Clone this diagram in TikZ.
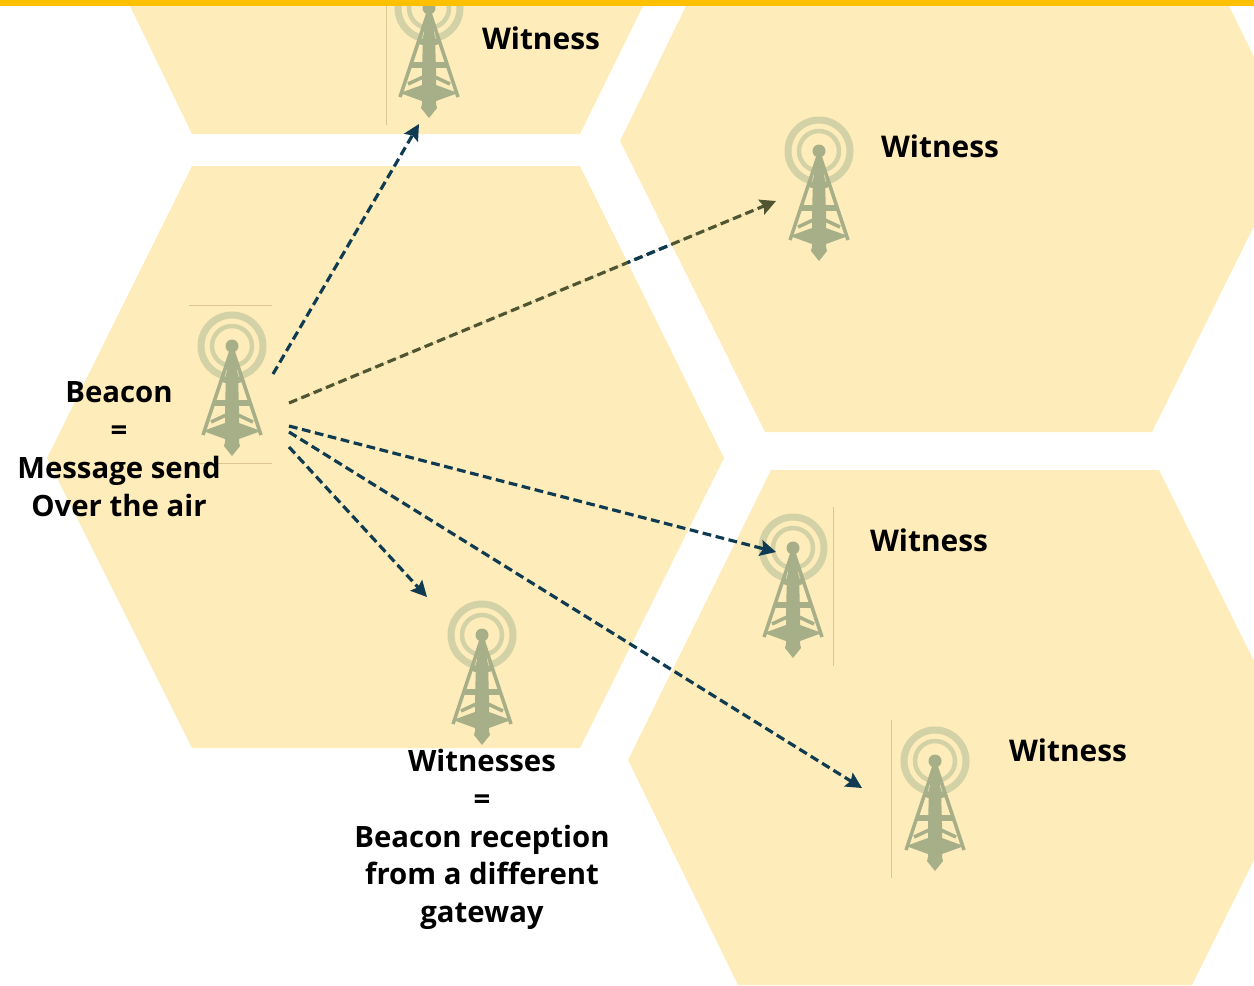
\documentclass[tikz,border=0pt]{standalone}
\usepackage{fontspec}
\setmainfont{Open Sans}
\usepackage{tikz}
\usetikzlibrary{arrows.meta, positioning}

\definecolor{cellyellow}{HTML}{FEECBA}
\definecolor{barorange}{HTML}{FFC000}
\definecolor{towergreen}{HTML}{A7AF88}
\definecolor{ringgreen}{HTML}{D2D2A6}
\definecolor{croptan}{HTML}{DCC593}
\definecolor{navyline}{HTML}{0F3B52}
\definecolor{oliveline}{HTML}{4F5530}

\tikzset{
    tower/.pic={
        % rings
        \draw[ringgreen, line width=0.14cm] (0,0) circle (31);
        \draw[ringgreen, line width=0.09cm] (0,0) circle (20);
        % mast and skirt
        \fill[towergreen] (-2,4) -- (2,4) -- (6,30) -- (7,62) -- (7,96) -- (8,100) -- (0,110) -- (-8,100) -- (-7,96) -- (-7,62) -- (-6,30) -- cycle;
        \fill[towergreen] (-29,85) -- (-7,77) -- (-7,93) -- cycle;
        \fill[towergreen] (29,85) -- (7,77) -- (7,93) -- cycle;
        \draw[towergreen, line width=0.07cm] (-21,76) -- (-6,69);
        \draw[towergreen, line width=0.07cm] (21,76) -- (6,69);
        % legs
        \draw[towergreen, line width=0.07cm] (-29,89) -- (0,2) -- (29,89);
        % bars
        \draw[towergreen, line width=0.11cm] (-18,57) -- (18,57);
        \draw[towergreen, line width=0.12cm] (-11,32) .. controls (-4,36) and (4,36) .. (11,32);
        \fill[towergreen] (0,0) circle (6.5);
    }
}

\begin{document}
\begin{tikzpicture}[
    x=0.02cm,
    y=-0.02cm,
    hexcell/.style={fill=cellyellow, draw=none},
    cropline/.style={draw=croptan, line width=0.4pt},
    cellword/.style={font=\bfseries\fontsize{17}{21}\selectfont, text=black, align=center, inner sep=0pt},
    stackword/.style={cellword, font=\bfseries\fontsize{16.7}{21.5}\selectfont},
    line/.style={draw=navyline, line width=1.8pt, dash pattern=on 5pt off 2.6pt, -{Stealth[length=9pt,width=9pt,inset=1.5pt]}},
    oliveband/.style={line, draw=oliveline, fill=oliveline}
]
\useasboundingbox (0,0) rectangle (1254,985);

% Cells
\fill[hexcell] (130,6) -- (192,134) -- (580,134) -- (643,6) -- cycle;
\fill[hexcell] (192,166) -- (580,166) -- (724,458) -- (580,748) -- (192,748) -- (47,458) -- cycle;
\fill[hexcell] (686,6) -- (1229,6) -- (1254,57) -- (1254,226) -- (1152,432) -- (765,432) -- (620,141) -- cycle;
\fill[hexcell] (771,470) -- (1159,470) -- (1254,661) -- (1254,860) -- (1192,985) -- (738,985) -- (628,760) -- cycle;

% Towers
\coordinate (towertop) at (429,8);
\coordinate (towerright) at (819,151);
\coordinate (beacon) at (232,346);
\coordinate (towermid) at (793,548);
\coordinate (towerlow) at (482,635);
\coordinate (towerfar) at (935,761);
\foreach \t in {towertop, towerright, beacon, towermid, towerlow, towerfar} {
    \pic at (\t) {tower};
}

% Crop edges
\draw[cropline] (189,305) -- (272,305);
\draw[cropline] (189,463) -- (272,463);
\draw[cropline] (386,6) -- (386,125);
\draw[cropline] (833,507) -- (833,666);
\draw[cropline] (891,720) -- (891,878);

% Top bar
\fill[barorange] (0,0) rectangle (1254,6);

% Labels
\node[cellword] (witnesstop) at (541,38.5) {Witness};
\node[cellword] (witnessright) at (940,146.5) {Witness};
\node[cellword] (witnessmid) at (929,540.5) {Witness};
\node[cellword] (witnessfar) at (1068,750.5) {Witness};
\node[stackword] (beaconlabel) at (119,449) {Beacon\\=\\Message send\\Over the air};
\node[stackword] (witnesseslabel) at (482,839.5) {Witnesses\\=\\Beacon reception\\from a different\\gateway};

% Arrow ends
\coordinate (txa) at (273,374);
\coordinate (txb) at (289,403);
\coordinate (txc) at (289,426);
\coordinate (txd) at (289,432);
\coordinate (txe) at (289,447);
\coordinate (rxa) at (419,124);
\coordinate (rxb) at (776,201);
\coordinate (rxc) at (776,552);
\coordinate (rxd) at (862,788);
\coordinate (rxe) at (427,597);

% Draw connections
\draw[line] (txa) -- (rxa);
\draw[oliveband] (txb) -- (rxb);
\draw[line] (txc) -- (rxc);
\draw[line] (txd) -- (rxd);
\draw[line] (txe) -- (rxe);

% The olive one turns navy over the white gap
\begin{scope}
\clip (580,166) -- (620,141) -- (765,432) -- (724,458) -- cycle;
\draw[line] (txb) -- (rxb);
\end{scope}

\end{tikzpicture}
\end{document}
